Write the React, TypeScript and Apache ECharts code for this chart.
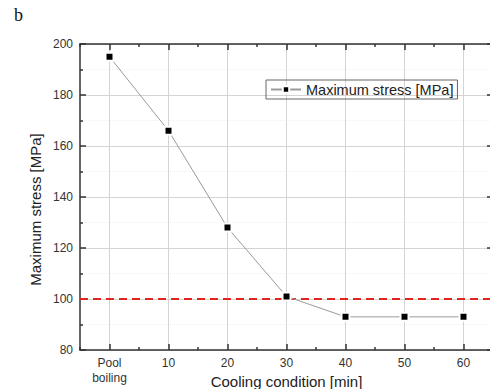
import React, { useEffect, useRef } from "react";
import * as echarts from "echarts";

const categories = ["Pool\nboiling", "10", "20", "30", "40", "50", "60"];
const maxStress = [195, 166, 128, 101, 93, 93, 93];
const limitValue = 100;
const seriesName = "Maximum stress [MPa]";
const yAxisName = "Maximum stress [MPa]";
const xAxisName = "Cooling condition [min]";
const panelLabel = "b";

const FONT = "'Liberation Sans', Arial, sans-serif";

export default function App() {
  const ref = useRef<HTMLDivElement>(null);
  useEffect(() => {
    if (!ref.current) return;
    const chart = echarts.init(ref.current, undefined, { renderer: "svg" });
    const axisLineStyle = { color: "#333", width: 1.5 };
    const baseX = {
      type: "category" as const,
      data: categories,
      boundaryGap: true,
    };
    chart.setOption({
      animation: false,
      backgroundColor: "#fff",
      textStyle: { fontFamily: FONT },
      grid: { left: 80, top: 44, width: 413, height: 306, containLabel: false, outerBoundsMode: "none" },
      graphic: [
        {
          type: "text",
          left: 14,
          top: 6,
          style: { text: panelLabel, fontSize: 18, fontFamily: "'Liberation Serif', 'DejaVu Serif', serif", fill: "#111" },
        },
      ],
      legend: {
        left: 266,
        top: 80,
        data: [seriesName],
        borderColor: "#666",
        borderWidth: 1,
        borderRadius: 0,
        padding: [2, 4, 2, 4],
        itemWidth: 30,
        itemHeight: 8,
        itemGap: 0,
        textStyle: { fontSize: 14.5, color: "#222", fontFamily: FONT },
      },
      xAxis: [
        {
          ...baseX,
          position: "bottom",
          name: xAxisName,
          nameLocation: "middle",
          nameGap: 24,
          nameMoveOverlap: false,
          nameTextStyle: { fontSize: 15, color: "#222", fontFamily: FONT, verticalAlign: "top", lineHeight: 15 },
          axisLine: { show: true, lineStyle: axisLineStyle },
          axisTick: { show: true, inside: true, length: 6, alignWithLabel: true, lineStyle: axisLineStyle },
          axisLabel: { fontSize: 12, color: "#333", margin: 5, lineHeight: 15, fontFamily: FONT },
          splitLine: { show: true, alignWithLabel: true, lineStyle: { color: "#d4d4d4", width: 1 } },
        },
        {
          ...baseX,
          position: "bottom",
          axisLine: { show: false },
          axisTick: { show: true, inside: true, length: 3, alignWithLabel: false, lineStyle: axisLineStyle },
          axisLabel: { show: false },
          splitLine: { show: false },
        },
        {
          ...baseX,
          position: "top",
          axisLine: { show: true, lineStyle: axisLineStyle },
          axisTick: { show: true, inside: true, length: 6, alignWithLabel: true, lineStyle: axisLineStyle },
          axisLabel: { show: false },
          splitLine: { show: false },
        },
        {
          ...baseX,
          position: "top",
          axisLine: { show: false },
          axisTick: { show: true, inside: true, length: 3, alignWithLabel: false, lineStyle: axisLineStyle },
          axisLabel: { show: false },
          splitLine: { show: false },
        },
      ],
      yAxis: [
        {
          type: "value",
          min: 80,
          max: 200,
          interval: 20,
          position: "left",
          name: yAxisName,
          nameLocation: "middle",
          nameGap: 37,
          nameMoveOverlap: false,
          nameTextStyle: { fontSize: 15, color: "#222", fontFamily: FONT, padding: [0, 25, 0, 0] },
          axisLine: { show: true, lineStyle: axisLineStyle },
          axisTick: { show: true, inside: true, length: 6, lineStyle: axisLineStyle },
          minorTick: { show: true, splitNumber: 2, length: 3, lineStyle: axisLineStyle },
          axisLabel: { fontSize: 12, color: "#333", margin: 7, fontFamily: FONT },
          splitLine: { show: true, lineStyle: { color: "#d4d4d4", width: 1 } },
          minorSplitLine: { show: true, lineStyle: { color: "#f1f1f1", width: 1, type: "dotted" } },
        },
        {
          type: "value",
          min: 80,
          max: 200,
          interval: 20,
          position: "right",
          axisLine: { show: true, lineStyle: axisLineStyle },
          axisTick: { show: true, inside: true, length: 6, lineStyle: axisLineStyle },
          minorTick: { show: true, splitNumber: 2, length: 3, lineStyle: axisLineStyle },
          axisLabel: { show: false },
          splitLine: { show: false },
        },
      ],
      series: [
        {
          name: seriesName,
          type: "line",
          xAxisIndex: 0,
          yAxisIndex: 0,
          data: maxStress,
          symbol: "rect",
          symbolSize: 8,
          lineStyle: { color: "#9a9a9a", width: 1 },
          itemStyle: { color: "#000", borderColor: "#fff", borderWidth: 2 },
          markLine: {
            silent: true,
            symbol: "none",
            label: { show: false },
            lineStyle: { color: "#e3231d", width: 2, type: [8, 5] },
            data: [{ yAxis: limitValue }],
          },
          z: 5,
        },
      ],
    });
    return () => chart.dispose();
  }, []);
  return (
    <div
      ref={ref}
      style={{ position: "fixed", left: 0, top: 0, width: 490, height: 389, background: "#fff" }}
    />
  );
}
